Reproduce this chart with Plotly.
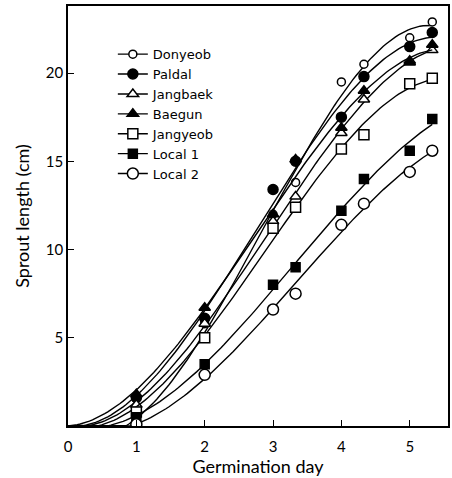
import numpy as np
import plotly.graph_objects as go

days = [0, 1, 2, 3, 3.33, 4, 4.33, 5, 5.33]

donyeob  = [0, 0.2, 5.8, 12.0, 13.8, 19.5, 20.5, 22.0, 22.9]
paldal   = [0, 1.6, 6.1, 13.4, 15.0, 17.5, 19.8, 21.5, 22.3]
jangbaek = [0, 1.2, 5.8, 11.6, 13.0, 16.6, 18.5, 20.7, 21.3]
baegun   = [0, 1.8, 6.7, 12.0, 15.1, 16.9, 19.0, 20.6, 21.6]
jangyeob = [0, 0.8, 5.0, 11.2, 12.4, 15.7, 16.5, 19.4, 19.7]
local1   = [0, 0.5, 3.5, 8.0, 9.0, 12.2, 14.0, 15.6, 17.4]
local2   = [0, 0.1, 2.9, 6.6, 7.5, 11.4, 12.6, 14.4, 15.6]

series = [
    ("Donyeob", donyeob, "circle", 8),
    ("Paldal", paldal, "circle", 10),
    ("Jangbaek", jangbaek, "triangle-up", 10),
    ("Baegun", baegun, "triangle-up", 10),
    ("Jangyeob", jangyeob, "square", 10),
    ("Local 1", local1, "square", 9),
    ("Local 2", local2, "circle", 11),
]
open_markers = {"Donyeob", "Jangbaek", "Jangyeob", "Local 2"}


def fitted_curve(x, y):
    # least-squares smooth curve (cubic through the origin) fitted to the data
    x = np.asarray(x, float)
    y = np.asarray(y, float)
    A = np.vstack([x, x ** 2, x ** 3]).T
    coef, *_ = np.linalg.lstsq(A, y, rcond=None)
    xs = np.linspace(0, x.max(), 120)
    ys = sum(c * xs ** (i + 1) for i, c in enumerate(coef))
    return xs, np.maximum(ys, 0)


fig = go.Figure()
for name, vals, sym, size in series:
    fill = "white" if name in open_markers else "black"
    xs, ys = fitted_curve(days, vals)
    fig.add_trace(go.Scatter(
        x=xs, y=ys, mode="lines", showlegend=False, hoverinfo="skip",
        line=dict(color="black", width=1.4)))
    fig.add_trace(go.Scatter(
        x=days[1:], y=vals[1:], mode="markers", showlegend=False,
        marker=dict(symbol=sym, size=size, color=fill,
                    line=dict(color="black", width=1.5))))
    fig.add_trace(go.Scatter(
        x=[None], y=[None], name=name, mode="lines+markers",
        line=dict(color="black", width=1.4),
        marker=dict(symbol=sym, size=size, color=fill,
                    line=dict(color="black", width=1.5))))

fig.update_layout(
    width=452, height=478,
    margin=dict(l=68, r=4, t=6, b=52),
    paper_bgcolor="white", plot_bgcolor="white",
    font=dict(family="Lato, DejaVu Sans, sans-serif", size=15, color="black"),
    showlegend=True,
    legend=dict(x=0.118, y=0.921, xanchor="left", yanchor="top",
                bgcolor="rgba(0,0,0,0)",
                font=dict(family="DejaVu Sans, sans-serif", size=13),
                itemwidth=30, tracegroupgap=0),
)
fig.update_xaxes(range=[0, 5.56], tickvals=[0, 1, 2, 3, 4, 5],
                 ticks="inside", ticklen=6, tickwidth=1.3, tickcolor="black",
                 ticklabelstandoff=6,
                 showline=True, linecolor="black", linewidth=1.5, mirror=True,
                 showgrid=False, zeroline=False, automargin=False,
                 title=dict(text="Germination day", standoff=4))
fig.update_yaxes(range=[0, 23.8], tickvals=[5, 10, 15, 20],
                 ticks="inside", ticklen=6, tickwidth=1.3, tickcolor="black",
                 showline=True, linecolor="black", linewidth=1.5, mirror=True,
                 showgrid=False, zeroline=False, automargin=False,
                 title=dict(text="Sprout length (cm)", standoff=12))

fig.write_html("out.html", config={"displayModeBar": False},
               post_script="document.body.style.margin='0';")
